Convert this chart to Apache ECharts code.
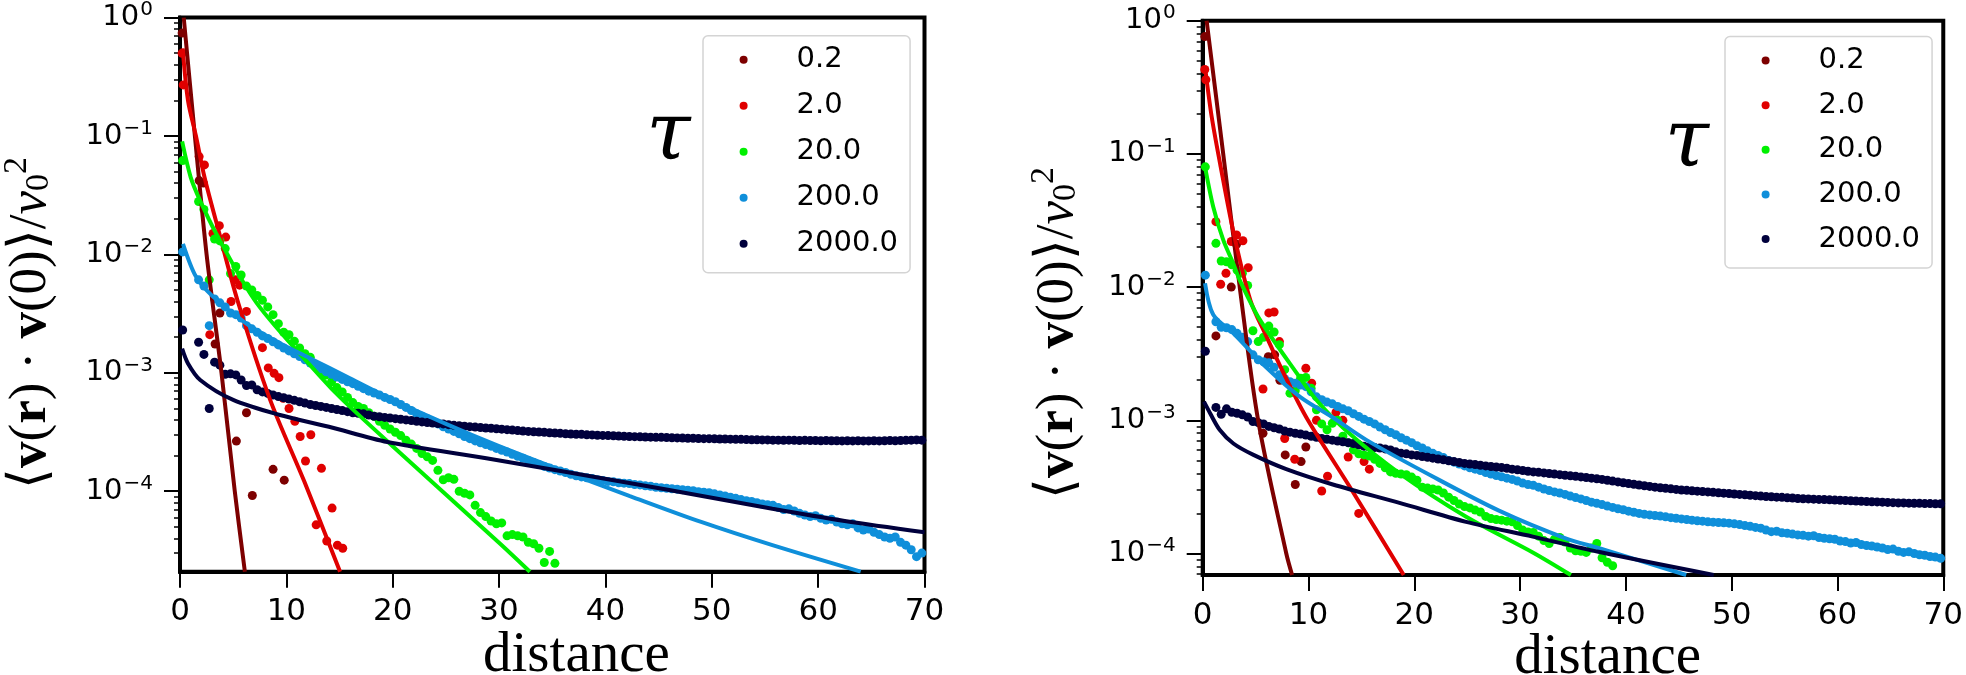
<!DOCTYPE html>
<html>
<head>
<meta charset="utf-8">
<script src="https://cdn.jsdelivr.net/npm/echarts@6/dist/echarts.min.js"></script>
<style>
  html, body { margin: 0; padding: 0; background: #fff; }
  #chart { width: 1966px; height: 675px; }
</style>
</head>
<body>
<div id="chart"></div>
<script>
// tau values (legend) and their colours
const tauNames = ['0.2', '2.0', '20.0', '200.0', '2000.0'];
const tauColors = ['#7d0000', '#e00000', '#00f000', '#0f8fda', '#00003c'];

const xTicks = [0, 10, 20, 30, 40, 50, 60, 70];
const yTicks = [1e-4, 1e-3, 1e-2, 1e-1, 1];

// ---------- left panel ----------
const distLeft = [
  0.25, 1.75, 2.25, 2.75, 3.25, 3.75, 4.25, 4.75, 5.25, 5.75,
  6.25, 6.75, 7.25, 7.75, 8.25, 8.75, 9.25, 9.75, 10.25, 10.75,
  11.25, 11.75, 12.25, 12.75, 13.25, 13.75, 14.25, 14.75, 15.25, 15.75,
  16.25, 16.75, 17.25, 17.75, 18.25, 18.75, 19.25, 19.75, 20.25, 20.75,
  21.25, 21.75, 22.25, 22.75, 23.25, 23.75, 24.25, 24.75, 25.25, 25.75,
  26.25, 26.75, 27.25, 27.75, 28.25, 28.75, 29.25, 29.75, 30.25, 30.75,
  31.25, 31.75, 32.25, 32.75, 33.25, 33.75, 34.25, 34.75, 35.25, 35.75,
  36.25, 36.75, 37.25, 37.75, 38.25, 38.75, 39.25, 39.75, 40.25, 40.75,
  41.25, 41.75, 42.25, 42.75, 43.25, 43.75, 44.25, 44.75, 45.25, 45.75,
  46.25, 46.75, 47.25, 47.75, 48.25, 48.75, 49.25, 49.75, 50.25, 50.75,
  51.25, 51.75, 52.25, 52.75, 53.25, 53.75, 54.25, 54.75, 55.25, 55.75,
  56.25, 56.75, 57.25, 57.75, 58.25, 58.75, 59.25, 59.75, 60.25, 60.75,
  61.25, 61.75, 62.25, 62.75, 63.25, 63.75, 64.25, 64.75, 65.25, 65.75,
  66.25, 66.75, 67.25, 67.75, 68.25, 68.75, 69.25, 69.75
];

const darkRedLeftDist = [0.2, 1.8, 2.2, 3.3, 3.75, 5.3, 6.25, 6.8, 8.75, 9.8];
const darkRedLeftVal = [0.74, 0.042, 0.04, 1.75e-3, 3.2e-3, 2.65e-4, 4.6e-4, 9.2e-5, 1.53e-4, 1.24e-4];

const redLeftDist = [0.2, 0.3, 1.8, 2.3, 2.8, 3.1, 3.7, 4.3, 4.8, 5.2, 5.6, 6.25, 7.75, 8.3,
  8.85, 9.3, 9.7, 10.25, 10.8, 11.3, 11.8, 12.3, 12.8, 13.3, 13.8, 14.3, 14.8, 15.3];
const redLeftVal = [0.5, 0.27, 0.067, 0.057, 2.1e-3, 0.015, 0.0175, 0.014, 4.0e-3, 6.1e-3, 5.5e-3, 3.3e-3, 1.63e-3, 1.1e-3,
  9.9e-4, 9.1e-4, 6.1e-4, 5.0e-4, 3.9e-4, 2.9e-4, 1.8e-4, 3.0e-4, 5.2e-5, 1.56e-4, 3.8e-5, 7.2e-5, 3.5e-5, 3.3e-5];

const greenLeftVal = [
  0.062, 0.028, 0.024, 6.1e-3, 0.0135, 0.013, 0.0112, 6.9e-3, 7.9e-3, 6.7e-3,
  5.4e-3, 5.0e-3, 4.5e-3, 4.1e-3, 3.6e-3, 3.1e-3, 2.6e-3, 2.2e-3, 2.1e-3, 1.85e-3,
  1.62e-3, 1.45e-3, 1.35e-3, 1.13e-3, 1.02e-3, 9.6e-4, 8.4e-4, 7.5e-4, 6.9e-4, 6.2e-4,
  5.6e-4, 5.2e-4, 5.0e-4, 4.6e-4, 4.3e-4, 3.9e-4, 3.6e-4, 3.35e-4, 3.15e-4, 2.95e-4,
  2.7e-4, 2.5e-4, 2.3e-4, 2.08e-4, 1.95e-4, 1.82e-4, 1.5e-4, 1.25e-4, 1.3e-4, 1.26e-4,
  1.0e-4, 9.6e-5, 9.3e-5, 7.6e-5, 6.6e-5, 6.1e-5, 5.6e-5, 5.3e-5, 5.4e-5, 4.2e-5,
  4.3e-5, 4.2e-5, 4.1e-5, 3.7e-5, 3.6e-5, 3.3e-5, 2.5e-5, 3.1e-5, 2.46e-5
];

const blueLeftVal = [
  0.0105, 6.1e-3, 5.4e-3, 2.5e-3, 4.2e-3, 3.9e-3, 3.6e-3, 3.2e-3, 3.1e-3, 2.9e-3,
  2.5e-3, 2.35e-3, 2.2e-3, 2.05e-3, 1.95e-3, 1.83e-3, 1.72e-3, 1.62e-3, 1.53e-3, 1.45e-3,
  1.37e-3, 1.29e-3, 1.21e-3, 1.14e-3, 1.08e-3, 1.02e-3, 9.7e-4, 9.2e-4, 8.8e-4, 8.4e-4,
  8.1e-4, 7.7e-4, 7.35e-4, 7.0e-4, 6.75e-4, 6.5e-4, 6.2e-4, 5.95e-4, 5.7e-4, 5.4e-4,
  5.1e-4, 4.8e-4, 4.5e-4, 4.3e-4, 4.1e-4, 3.9e-4, 3.7e-4, 3.5e-4, 3.35e-4, 3.2e-4,
  3.05e-4, 2.9e-4, 2.78e-4, 2.66e-4, 2.56e-4, 2.48e-4, 2.4e-4, 2.3e-4, 2.22e-4, 2.14e-4,
  2.05e-4, 1.97e-4, 1.9e-4, 1.82e-4, 1.75e-4, 1.68e-4, 1.62e-4, 1.57e-4, 1.52e-4, 1.48e-4,
  1.44e-4, 1.39e-4, 1.35e-4, 1.32e-4, 1.3e-4, 1.28e-4, 1.25e-4, 1.23e-4, 1.21e-4, 1.2e-4,
  1.18e-4, 1.17e-4, 1.16e-4, 1.14e-4, 1.13e-4, 1.11e-4, 1.1e-4, 1.08e-4, 1.07e-4, 1.06e-4,
  1.05e-4, 1.04e-4, 1.03e-4, 1.02e-4, 1.01e-4, 9.9e-5, 9.8e-5, 9.7e-5, 9.5e-5, 9.3e-5,
  9.1e-5, 8.9e-5, 8.7e-5, 8.5e-5, 8.3e-5, 8.2e-5, 8.0e-5, 7.8e-5, 7.7e-5, 7.6e-5,
  7.3e-5, 7.0e-5, 7.1e-5, 6.8e-5, 6.5e-5, 6.3e-5, 6.1e-5, 6.2e-5, 5.9e-5, 5.7e-5,
  5.8e-5, 5.5e-5, 5.3e-5, 5.2e-5, 5.3e-5, 4.9e-5, 4.7e-5, 4.8e-5, 4.5e-5, 4.3e-5,
  4.1e-5, 4.0e-5, 4.1e-5, 3.7e-5, 3.5e-5, 3.2e-5, 2.8e-5, 3.0e-5
];

const navyLeftVal = [
  2.3e-3, 1.81e-3, 1.43e-3, 5.0e-4, 1.23e-3, 1.16e-3, 9.7e-4, 9.8e-4, 9.6e-4, 8.7e-4,
  7.8e-4, 7.9e-4, 7.2e-4, 6.9e-4, 6.7e-4, 6.5e-4, 6.3e-4, 6.15e-4, 6.0e-4, 5.85e-4,
  5.7e-4, 5.55e-4, 5.4e-4, 5.3e-4, 5.2e-4, 5.1e-4, 5.0e-4, 4.9e-4, 4.8e-4, 4.7e-4,
  4.6e-4, 4.55e-4, 4.5e-4, 4.4e-4, 4.3e-4, 4.25e-4, 4.2e-4, 4.15e-4, 4.1e-4, 4.05e-4,
  4.0e-4, 3.95e-4, 3.9e-4, 3.85e-4, 3.8e-4, 3.77e-4, 3.73e-4, 3.7e-4, 3.65e-4, 3.6e-4,
  3.57e-4, 3.54e-4, 3.51e-4, 3.48e-4, 3.45e-4, 3.42e-4, 3.4e-4, 3.37e-4, 3.34e-4, 3.31e-4,
  3.28e-4, 3.25e-4, 3.22e-4, 3.2e-4, 3.18e-4, 3.16e-4, 3.14e-4, 3.12e-4, 3.1e-4, 3.08e-4,
  3.06e-4, 3.04e-4, 3.03e-4, 3.02e-4, 3.0e-4, 2.99e-4, 2.97e-4, 2.96e-4, 2.95e-4, 2.94e-4,
  2.92e-4, 2.91e-4, 2.9e-4, 2.89e-4, 2.88e-4, 2.87e-4, 2.86e-4, 2.85e-4, 2.85e-4, 2.84e-4,
  2.83e-4, 2.82e-4, 2.81e-4, 2.8e-4, 2.8e-4, 2.79e-4, 2.78e-4, 2.78e-4, 2.77e-4, 2.76e-4,
  2.76e-4, 2.75e-4, 2.74e-4, 2.74e-4, 2.73e-4, 2.72e-4, 2.72e-4, 2.71e-4, 2.71e-4, 2.7e-4,
  2.7e-4, 2.69e-4, 2.7e-4, 2.69e-4, 2.68e-4, 2.69e-4, 2.68e-4, 2.68e-4, 2.67e-4, 2.68e-4,
  2.67e-4, 2.67e-4, 2.66e-4, 2.67e-4, 2.66e-4, 2.67e-4, 2.66e-4, 2.66e-4, 2.67e-4, 2.66e-4,
  2.67e-4, 2.68e-4, 2.67e-4, 2.68e-4, 2.69e-4, 2.7e-4, 2.71e-4, 2.7e-4
];

// fitted curves, left panel
const fitLeft02Dist = [0.35, 1.4, 2.5, 3.9, 5.15, 6.1];
const fitLeft02Val = [1, 0.1, 0.01, 1e-3, 1e-4, 2.09e-5];
const fitLeft2Dist = [0.25, 0.75, 1.5, 2.3, 3.7, 5.4, 8.45, 11.7, 15.05];
const fitLeft2Val = [0.55, 0.2, 0.1, 0.045, 0.015, 4.1e-3, 6e-4, 1.2e-4, 2.09e-5];
const fitLeft20Dist = [0.2, 1, 1.85, 3.4, 7.2, 13.1, 15.3, 20, 30.1, 32.9];
const fitLeft20Val = [0.09, 0.045, 0.029, 0.015, 3.9e-3, 9.5e-4, 5.9e-4, 2.4e-4, 3.6e-5, 2.09e-5];
const fitLeft200Dist = [0.28, 1.5, 3.1, 6.25, 9.4, 12.5, 15.65, 19.7, 25, 30, 36.9, 42.3, 49, 55.7, 64];
const fitLeft200Val = [0.0123, 6.5e-3, 4.4e-3, 2.6e-3, 1.78e-3, 1.29e-3, 9.3e-4, 6.1e-4, 3.7e-4, 2.4e-4, 1.38e-4, 9.1e-5, 5.5e-5, 3.5e-5, 2.09e-5];
const fitLeft2000Dist = [0.2, 0.75, 1.9, 5, 9.4, 14, 19.5, 28.8, 36.2, 45.6, 55.7, 62.5, 70];
const fitLeft2000Val = [1.6e-3, 1.2e-3, 8.7e-4, 5.9e-4, 4.4e-4, 3.5e-4, 2.6e-4, 1.9e-4, 1.46e-4, 1.04e-4, 7.1e-5, 5.6e-5, 4.5e-5];

// ---------- right panel ----------
const distRight = [
  0.25, 1.25, 1.75, 2.25, 2.75, 3.25, 3.75, 4.25, 4.75, 5.25,
  5.75, 6.25, 6.75, 7.25, 7.75, 8.25, 8.75, 9.25, 9.75, 10.25,
  10.75, 11.25, 11.75, 12.25, 12.75, 13.25, 13.75, 14.25, 14.75, 15.25,
  15.75, 16.25, 16.75, 17.25, 17.75, 18.25, 18.75, 19.25, 19.75, 20.25,
  20.75, 21.25, 21.75, 22.25, 22.75, 23.25, 23.75, 24.25, 24.75, 25.25,
  25.75, 26.25, 26.75, 27.25, 27.75, 28.25, 28.75, 29.25, 29.75, 30.25,
  30.75, 31.25, 31.75, 32.25, 32.75, 33.25, 33.75, 34.25, 34.75, 35.25,
  35.75, 36.25, 36.75, 37.25, 37.75, 38.25, 38.75, 39.25, 39.75, 40.25,
  40.75, 41.25, 41.75, 42.25, 42.75, 43.25, 43.75, 44.25, 44.75, 45.25,
  45.75, 46.25, 46.75, 47.25, 47.75, 48.25, 48.75, 49.25, 49.75, 50.25,
  50.75, 51.25, 51.75, 52.25, 52.75, 53.25, 53.75, 54.25, 54.75, 55.25,
  55.75, 56.25, 56.75, 57.25, 57.75, 58.25, 58.75, 59.25, 59.75, 60.25,
  60.75, 61.25, 61.75, 62.25, 62.75, 63.25, 63.75, 64.25, 64.75, 65.25,
  65.75, 66.25, 66.75, 67.25, 67.75, 68.25, 68.75, 69.25, 69.75
];

const darkRedRightDist = [0.2, 1.25, 2.7, 3.2, 5.7, 6.2, 6.8, 7.3, 7.8, 8.75, 9.3, 9.75];
const darkRedRightVal = [0.76, 4.3e-3, 0.01, 0.021, 8.0e-4, 3.0e-3, 3.1e-3, 2.0e-3, 5.5e-4, 3.3e-4, 4.9e-4, 6.3e-4];

const redRightDist = [0.2, 0.3, 1.25, 1.7, 2.2, 2.7, 3.2, 3.8, 4.3, 5.7, 6.25, 6.75, 7.25,
  7.75, 8.7, 9.75, 10.3, 10.75, 11.25, 11.8, 12.6, 13.25, 13.75, 14.75, 15.25, 15.75];
const redRightVal = [0.43, 0.36, 0.031, 0.0105, 0.0127, 0.022, 0.0246, 0.0223, 0.014, 1.72e-3, 6.4e-3, 6.5e-3, 3.9e-3,
  7.3e-4, 5.1e-4, 2.46e-3, 1.9e-3, 1.0e-3, 2.95e-4, 3.8e-4, 1.15e-3, 1.0e-3, 5.3e-4, 2.0e-4, 4.9e-4, 4.3e-4];

const greenRightVal = [
  0.08, 0.0213, 0.0157, 0.0155, 0.0147, 0.0134, 0.0127, 0.0103, 4.7e-3, 3.9e-3,
  4.2e-3, 5.1e-3, 4.6e-3, 3.7e-3, 2.4e-3, 1.6e-3, 1.67e-3, 2.07e-3, 2.1e-3, 1.74e-3,
  1.2e-3, 9.4e-4, 8.5e-4, 9.5e-4, 1.0e-3, 7.6e-4, 6.8e-4, 6.0e-4, 5.6e-4, 5.5e-4,
  5.4e-4, 5.1e-4, 4.75e-4, 4.4e-4, 4.1e-4, 4.0e-4, 3.95e-4, 3.9e-4, 3.75e-4, 3.55e-4,
  3.15e-4, 3.1e-4, 3.05e-4, 3.0e-4, 2.85e-4, 2.65e-4, 2.5e-4, 2.35e-4, 2.25e-4, 2.2e-4,
  2.12e-4, 2.05e-4, 1.9e-4, 1.83e-4, 1.8e-4, 1.78e-4, 1.75e-4, 1.73e-4, 1.62e-4, 1.5e-4,
  1.45e-4, 1.44e-4, 1.35e-4, 1.25e-4, 1.19e-4, 1.28e-4, 1.32e-4, 1.22e-4, 1.1e-4, 1.05e-4,
  1.04e-4, 1.02e-4, 1.1e-4, 1.19e-4, 9.3e-5, 8.6e-5, 8.1e-5
];

const blueRightVal = [
  0.0123, 5.5e-3, 5.0e-3, 4.95e-3, 4.8e-3, 4.5e-3, 4.2e-3, 3.9e-3, 3.1e-3, 2.85e-3,
  2.75e-3, 2.7e-3, 2.5e-3, 2.2e-3, 2.05e-3, 1.95e-3, 1.9e-3, 1.84e-3, 1.79e-3, 1.64e-3,
  1.5e-3, 1.43e-3, 1.37e-3, 1.33e-3, 1.27e-3, 1.22e-3, 1.18e-3, 1.12e-3, 1.07e-3, 1.02e-3,
  9.8e-4, 9.4e-4, 8.9e-4, 8.5e-4, 8.1e-4, 7.8e-4, 7.4e-4, 7.1e-4, 6.8e-4, 6.45e-4,
  6.2e-4, 5.9e-4, 5.65e-4, 5.45e-4, 5.25e-4, 5.0e-4, 4.85e-4, 4.7e-4, 4.55e-4, 4.4e-4,
  4.3e-4, 4.2e-4, 4.05e-4, 3.95e-4, 3.85e-4, 3.77e-4, 3.68e-4, 3.6e-4, 3.5e-4, 3.38e-4,
  3.3e-4, 3.25e-4, 3.15e-4, 3.05e-4, 2.97e-4, 2.9e-4, 2.85e-4, 2.78e-4, 2.7e-4, 2.63e-4,
  2.57e-4, 2.5e-4, 2.43e-4, 2.38e-4, 2.33e-4, 2.27e-4, 2.22e-4, 2.17e-4, 2.13e-4, 2.08e-4,
  2.04e-4, 2.0e-4, 1.97e-4, 1.95e-4, 1.93e-4, 1.91e-4, 1.89e-4, 1.86e-4, 1.84e-4, 1.82e-4,
  1.8e-4, 1.78e-4, 1.76e-4, 1.75e-4, 1.73e-4, 1.72e-4, 1.71e-4, 1.7e-4, 1.69e-4, 1.67e-4,
  1.65e-4, 1.62e-4, 1.6e-4, 1.57e-4, 1.55e-4, 1.5e-4, 1.46e-4, 1.47e-4, 1.43e-4, 1.42e-4,
  1.4e-4, 1.38e-4, 1.37e-4, 1.35e-4, 1.36e-4, 1.32e-4, 1.3e-4, 1.29e-4, 1.28e-4, 1.24e-4,
  1.23e-4, 1.2e-4, 1.21e-4, 1.17e-4, 1.15e-4, 1.14e-4, 1.12e-4, 1.1e-4, 1.07e-4, 1.08e-4,
  1.04e-4, 1.02e-4, 1.03e-4, 1.0e-4, 9.8e-5, 9.7e-5, 9.5e-5, 9.4e-5, 9.2e-5
];

const navyRightVal = [
  3.3e-3, 1.25e-3, 1.11e-3, 1.22e-3, 1.15e-3, 1.13e-3, 1.1e-3, 1.06e-3, 9.8e-4, 9.6e-4,
  9.4e-4, 9.0e-4, 8.8e-4, 8.6e-4, 8.3e-4, 8.15e-4, 8.0e-4, 7.9e-4, 7.75e-4, 7.6e-4,
  7.45e-4, 7.3e-4, 7.2e-4, 7.1e-4, 7.0e-4, 6.9e-4, 6.8e-4, 6.7e-4, 6.55e-4, 6.4e-4,
  6.3e-4, 6.25e-4, 6.2e-4, 6.1e-4, 6.0e-4, 5.8e-4, 5.65e-4, 5.6e-4, 5.5e-4, 5.45e-4,
  5.35e-4, 5.28e-4, 5.2e-4, 5.12e-4, 5.05e-4, 4.97e-4, 4.9e-4, 4.82e-4, 4.75e-4, 4.7e-4,
  4.65e-4, 4.6e-4, 4.55e-4, 4.5e-4, 4.46e-4, 4.42e-4, 4.37e-4, 4.3e-4, 4.25e-4, 4.2e-4,
  4.15e-4, 4.1e-4, 4.07e-4, 4.03e-4, 3.99e-4, 3.95e-4, 3.91e-4, 3.87e-4, 3.83e-4, 3.8e-4,
  3.76e-4, 3.72e-4, 3.68e-4, 3.64e-4, 3.6e-4, 3.55e-4, 3.5e-4, 3.45e-4, 3.4e-4, 3.35e-4,
  3.31e-4, 3.27e-4, 3.23e-4, 3.19e-4, 3.15e-4, 3.12e-4, 3.09e-4, 3.06e-4, 3.03e-4, 3.0e-4,
  2.98e-4, 2.96e-4, 2.94e-4, 2.92e-4, 2.9e-4, 2.88e-4, 2.86e-4, 2.84e-4, 2.82e-4, 2.8e-4,
  2.78e-4, 2.76e-4, 2.74e-4, 2.72e-4, 2.7e-4, 2.68e-4, 2.67e-4, 2.65e-4, 2.64e-4, 2.62e-4,
  2.61e-4, 2.59e-4, 2.58e-4, 2.57e-4, 2.56e-4, 2.55e-4, 2.54e-4, 2.53e-4, 2.52e-4, 2.51e-4,
  2.5e-4, 2.49e-4, 2.48e-4, 2.47e-4, 2.46e-4, 2.45e-4, 2.44e-4, 2.43e-4, 2.42e-4, 2.41e-4,
  2.4e-4, 2.4e-4, 2.39e-4, 2.38e-4, 2.38e-4, 2.37e-4, 2.37e-4, 2.36e-4, 2.36e-4
];

// fitted curves, right panel
const fitRight02Dist = [0.37, 1.94, 3.5, 5.24, 7.9, 8.45];
const fitRight02Val = [1, 0.1, 0.01, 1e-3, 1e-4, 6.9e-5];
const fitRight2Dist = [0.22, 0.85, 1.7, 2.9, 4.5, 6, 7.6, 9.8, 14.2, 19.0];
const fitRight2Val = [0.45, 0.19, 0.08, 0.026, 8.0e-3, 4.3e-3, 2.3e-3, 1.05e-3, 2.9e-4, 6.9e-5];
const fitRight20Dist = [0.22, 1, 1.94, 2.88, 3.5, 5.4, 9.17, 10.75, 13.6, 18.6, 24.9, 31.2, 34.8];
const fitRight20Val = [0.08, 0.04, 0.0226, 0.0151, 0.0113, 5.7e-3, 2.1e-3, 1.42e-3, 8.3e-4, 4.0e-4, 1.89e-4, 1.02e-4, 6.9e-5];
const fitRight200Dist = [0.22, 1, 2.9, 6, 9.2, 12.3, 15.5, 21.7, 28, 34.3, 37.4, 45.7];
const fitRight200Val = [0.0107, 6.2e-3, 4.5e-3, 2.5e-3, 1.5e-3, 1.05e-3, 7.1e-4, 3.8e-4, 2.1e-4, 1.3e-4, 1.1e-4, 6.9e-5];
const fitRight2000Dist = [0.12, 0.7, 1.6, 2.9, 4.8, 7.9, 12.3, 18.6, 24.9, 31.2, 37.4, 48.3];
const fitRight2000Val = [1.38e-3, 1.13e-3, 8.5e-4, 6.7e-4, 5.5e-4, 4.3e-4, 3.3e-4, 2.4e-4, 1.73e-4, 1.34e-4, 1.03e-4, 6.9e-5];

// ---------- helpers ----------
function pairs(xs, ys) {
  return ys.map((y, i) => [xs[i], y]);
}

function minorTicks(lo, hi) {
  const out = [];
  for (let e = -6; e < 1; e++) {
    for (let m = 2; m <= 9; m++) {
      const v = m * Math.pow(10, e);
      if (v > lo && v < hi) out.push(v);
    }
  }
  return out;
}

function powLabel(v) {
  const e = Math.round(Math.log10(v));
  return '{b|10}{e|' + (e < 0 ? '\u2212' + (-e) : e) + '}';
}

const sansFont = 'DejaVu Sans';
const serifFont = 'Liberation Serif';

const panels = [
  {
    ymin: 2.09e-5,
    dots: [
      pairs(darkRedLeftDist, darkRedLeftVal),
      pairs(redLeftDist, redLeftVal),
      pairs(distLeft, greenLeftVal),
      pairs(distLeft, blueLeftVal),
      pairs(distLeft, navyLeftVal)
    ],
    fits: [
      pairs(fitLeft02Dist, fitLeft02Val),
      pairs(fitLeft2Dist, fitLeft2Val),
      pairs(fitLeft20Dist, fitLeft20Val),
      pairs(fitLeft200Dist, fitLeft200Val),
      pairs(fitLeft2000Dist, fitLeft2000Val)
    ]
  },
  {
    ymin: 6.9e-5,
    dots: [
      pairs(darkRedRightDist, darkRedRightVal),
      pairs(redRightDist, redRightVal),
      pairs(distRight, greenRightVal),
      pairs(distRight, blueRightVal),
      pairs(distRight, navyRightVal)
    ],
    fits: [
      pairs(fitRight02Dist, fitRight02Val),
      pairs(fitRight2Dist, fitRight2Val),
      pairs(fitRight20Dist, fitRight20Val),
      pairs(fitRight200Dist, fitRight200Val),
      pairs(fitRight2000Dist, fitRight2000Val)
    ]
  }
];

const grids = [
  { left: 180, top: 17.6, width: 744.5, height: 554.1 },
  { left: 1202.7, top: 20.7, width: 743.1, height: 554.3 }
];

const xAxes = [];
const yAxes = [];
const minorAxes = [];
const series = [];

panels.forEach((p, k) => {
  xAxes.push({
    gridIndex: k, type: 'value', min: 0, max: 70, interval: 10,
    axisLine: { show: true, onZero: false, lineStyle: { color: '#000', width: 4 } },
    axisTick: { show: true, length: 16, customValues: xTicks, lineStyle: { color: '#000', width: 2 } },
    axisLabel: { customValues: xTicks, fontSize: 31, fontFamily: sansFont, color: '#000', margin: 25 },
    splitLine: { show: false }
  });
  yAxes.push({
    gridIndex: k, type: 'log', logBase: 10, min: p.ymin, max: 1, position: 'left',
    axisLine: { show: true, onZero: false, lineStyle: { color: '#000', width: 4 } },
    axisTick: { show: true, length: 16, customValues: yTicks, lineStyle: { color: '#000', width: 2 } },
    axisLabel: {
      customValues: yTicks, formatter: powLabel, margin: 27, color: '#000',
      rich: {
        b: { fontSize: 29, fontFamily: sansFont, color: '#000' },
        e: { fontSize: 20, fontFamily: sansFont, color: '#000', padding: [0, 0, 15, 1] }
      }
    },
    splitLine: { show: false }
  });
  minorAxes.push({
    gridIndex: k, type: 'log', logBase: 10, min: p.ymin, max: 1, position: 'left',
    axisLine: { show: false },
    axisTick: { show: true, length: 6, customValues: minorTicks(p.ymin, 1), lineStyle: { color: '#000', width: 1.5 } },
    axisLabel: { show: false },
    splitLine: { show: false }
  });

  for (let i = 0; i < 5; i++) {
    series.push({
      type: 'scatter', name: tauNames[i], xAxisIndex: k, yAxisIndex: k,
      data: p.dots[i], symbol: 'circle', symbolSize: 9,
      itemStyle: { color: tauColors[i], opacity: 1 },
      silent: true
    });
    series.push({
      type: 'line', name: tauNames[i] + ' fit', xAxisIndex: k, yAxisIndex: k,
      data: p.fits[i], showSymbol: false, symbol: 'none', smooth: 0.3,
      lineStyle: { color: tauColors[i], width: 4 },
      itemStyle: { color: tauColors[i] },
      silent: true
    });
  }
});

function legendFor(left, top, gap) {
  return {
    data: tauNames, orient: 'vertical', left: left, top: top,
    icon: 'circle', itemWidth: 8, itemHeight: 8, itemGap: gap,
    padding: [6, 12, 11, 36.6],
    backgroundColor: '#fff', borderColor: '#d4d4d4', borderWidth: 1.5, borderRadius: 5,
    selectedMode: false,
    textStyle: { fontSize: 29, fontFamily: sansFont, color: '#000', lineHeight: 36, padding: [0, 0, 0, 44] }
  };
}

const yLabelText = '{n|\u27e8}{b|v}{n|(}{b|r}{n|) \u00b7 }{b|v}{n|(0)\u27e9/}{i|v}{s|0}{p|2}';
const yLabelRich = {
  n: { fontFamily: serifFont, fontSize: 53, lineHeight: 66, color: '#000' },
  b: { fontFamily: serifFont, fontSize: 53, lineHeight: 66, fontWeight: 'bold', color: '#000' },
  i: { fontFamily: serifFont, fontSize: 53, lineHeight: 66, fontStyle: 'italic', color: '#000' },
  s: { fontFamily: serifFont, fontSize: 34, color: '#000', padding: [16, 0, 0, 0] },
  p: { fontFamily: serifFont, fontSize: 34, color: '#000', padding: [0, 0, 28, 0] }
};

// rotated label: text start sits at the bottom (y)
function yLabel(x, y) {
  return {
    type: 'text', x: x, y: y, rotation: Math.PI / 2, silent: true,
    style: { text: yLabelText, rich: yLabelRich, align: 'left', verticalAlign: 'middle' }
  };
}
function tau(x, y) {
  return {
    type: 'text', x: x, y: y, silent: true,
    style: { text: '\u03c4', fontFamily: 'DejaVu Serif', fontStyle: 'italic', fontSize: 80, fill: '#000', align: 'center', verticalAlign: 'middle' }
  };
}
function xName(x, y) {
  return {
    type: 'text', x: x, y: y, silent: true,
    style: { text: 'distance', fontFamily: serifFont, fontSize: 57, fill: '#000', align: 'center', verticalAlign: 'middle' }
  };
}

const chart = echarts.init(document.getElementById('chart'), null, { renderer: 'canvas' });
chart.setOption({
  animation: false,
  backgroundColor: '#fff',
  grid: grids.map(g => Object.assign({ show: true, borderColor: '#000', borderWidth: 4, backgroundColor: 'transparent' }, g)),
  xAxis: xAxes,
  yAxis: yAxes.concat(minorAxes),
  legend: [legendFor(703, 35.7, 10), legendFor(1725, 36.6, 8.6)],
  series: series,
  graphic: [
    yLabel(31, 489), yLabel(1058, 499),
    tau(668.5, 138), tau(1686.8, 145),
    xName(576.4, 656), xName(1607.6, 658)
  ]
});
</script>
</body>
</html>
